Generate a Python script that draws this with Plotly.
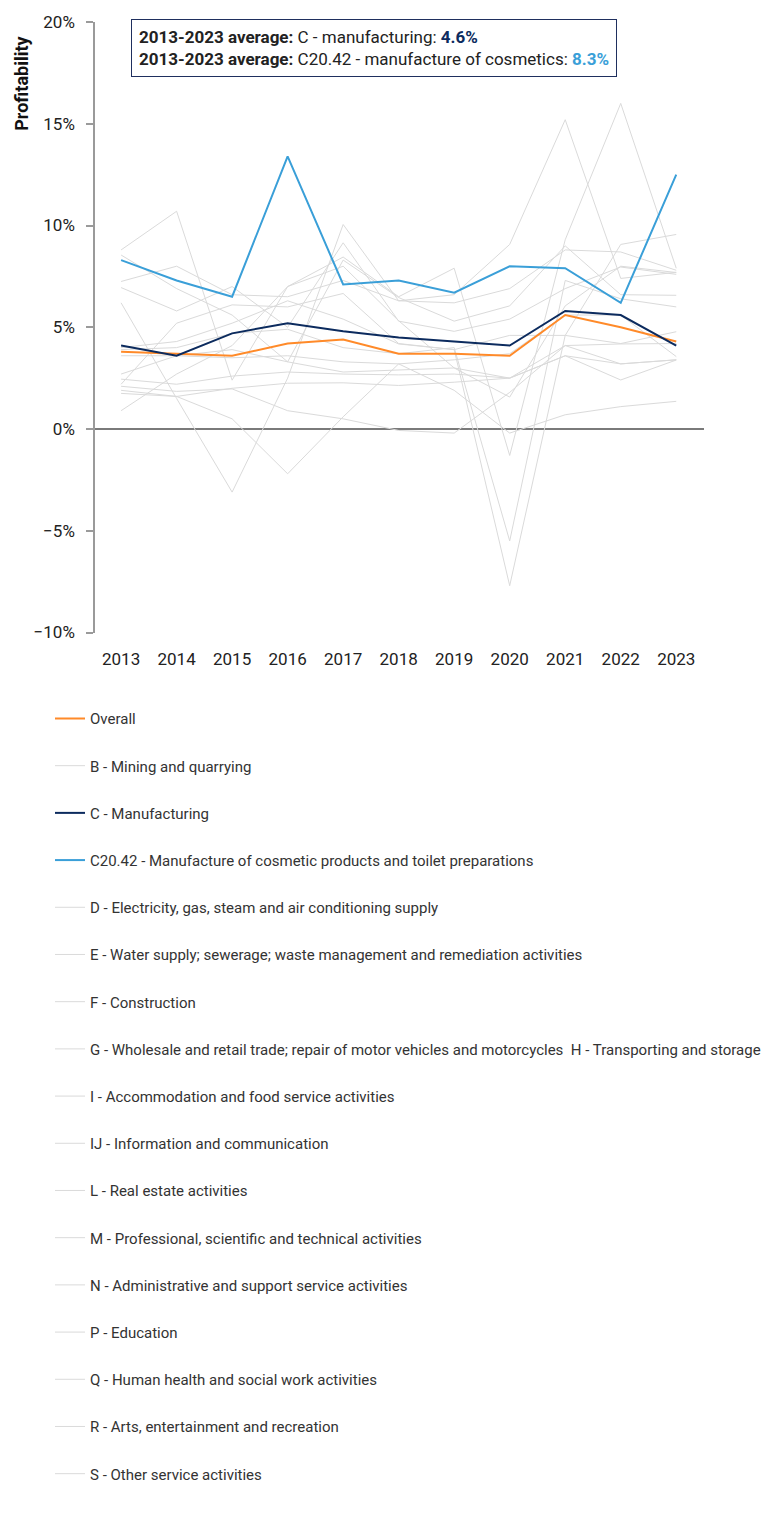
import plotly.graph_objects as go

years = list(range(2013, 2024))

overall = [3.8, 3.7, 3.6, 4.2, 4.4, 3.7, 3.7, 3.6, 5.6, 5.0, 4.3]
manufacturing = [4.1, 3.6, 4.7, 5.2, 4.8, 4.5, 4.3, 4.1, 5.8, 5.6, 4.1]
cosmetics = [8.3, 7.3, 6.5, 13.4, 7.1, 7.3, 6.7, 8.0, 7.9, 6.2, 12.5]

sector_b = [8.8, 10.7, 2.4, 7.0, 8.45, 6.5, 7.9, -1.3, 9.3, 16.0, 7.9]
sector_d = [6.2, 1.5, -3.1, 2.5, 10.05, 6.3, 6.6, 9.07, 15.2, 7.4, 7.7]
sector_e = [7.25, 8.0, 6.6, 6.5, 7.3, 6.3, 6.2, 6.9, 8.8, 8.7, 7.8]
sector_f = [2.7, 3.6, 3.9, 3.3, 2.8, 2.9, 3.0, 2.5, 3.6, 3.2, 3.4]
sector_g = [2.45, 2.2, 2.6, 2.8, 2.7, 2.66, 2.7, 2.5, 4.1, 4.18, 4.2]
sector_h = [3.9, 4.0, 4.7, 4.9, 4.0, 3.7, 4.0, -5.5, 7.3, 6.4, 6.0]
sector_i = [2.2, 5.2, 6.1, 6.0, 6.66, 4.2, 3.9, -7.7, 4.6, 9.07, 9.56]
sector_j = [6.95, 5.8, 7.0, 5.0, 9.15, 5.3, 4.8, 5.4, 6.9, 7.96, 7.6]
sector_l = [8.55, 6.9, 5.6, 3.3, 8.3, 6.46, 5.3, 6.05, 9.0, 6.6, 6.57]
sector_m = [4.0, 4.3, 5.2, 6.3, 5.4, 4.18, 3.9, 4.6, 4.6, 4.2, 4.78]
sector_n = [3.6, 3.6, 3.5, 3.6, 3.3, 3.2, 3.4, 3.7, 5.6, 5.6, 3.56]
sector_p = [0.9, 2.7, 4.1, 7.0, 8.0, 5.32, 3.0, 1.57, 6.05, 8.0, 7.69]
sector_q = [1.75, 1.6, 2.0, 2.25, 2.27, 2.14, 2.3, 2.5, 3.6, 2.41, 3.39]
sector_r = [1.9, 1.6, 0.5, -2.2, 0.6, 3.2, 1.9, -0.2, 0.7, 1.1, 1.36]
sector_s = [2.1, 1.85, 1.97, 0.9, 0.5, -0.07, -0.2, 1.8, 4.1, 3.2, 3.4]

# (legend label, values, legend position, show in legend)
grey_sectors = [
    ("B - Mining and quarrying", sector_b, 2, True),
    ("D - Electricity, gas, steam and air conditioning supply", sector_d, 5, True),
    ("E - Water supply; sewerage; waste management and remediation activities", sector_e, 6, True),
    ("F - Construction", sector_f, 7, True),
    ("G - Wholesale and retail trade; repair of motor vehicles and motorcycles  H - Transporting and storage", sector_g, 8, True),
    ("H - Transporting and storage", sector_h, 8, False),
    ("I - Accommodation and food service activities", sector_i, 9, True),
    ("IJ - Information and communication", sector_j, 10, True),
    ("L - Real estate activities", sector_l, 11, True),
    ("M - Professional, scientific and technical activities", sector_m, 12, True),
    ("N - Administrative and support service activities", sector_n, 13, True),
    ("P - Education", sector_p, 14, True),
    ("Q - Human health and social work activities", sector_q, 15, True),
    ("R - Arts, entertainment and recreation", sector_r, 16, True),
    ("S - Other service activities", sector_s, 17, True),
]

ORANGE = "#ff8a29"
NAVY = "#0c2b5e"
BLUE = "#3a9fd8"
GREY = "#dadada"

fig = go.Figure()

for name, vals, rank, show in grey_sectors:
    fig.add_trace(go.Scatter(
        x=years, y=vals, name=name, mode="lines",
        line=dict(color=GREY, width=1),
        legendrank=rank, legendgroup="g%d" % rank, showlegend=show,
    ))

fig.add_trace(go.Scatter(x=years, y=overall, name="Overall", mode="lines",
                         line=dict(color=ORANGE, width=2), legendrank=1, legendgroup="g1"))
fig.add_trace(go.Scatter(x=years, y=manufacturing, name="C - Manufacturing", mode="lines",
                         line=dict(color=NAVY, width=2), legendrank=3, legendgroup="g3"))
fig.add_trace(go.Scatter(x=years, y=cosmetics,
                         name="C20.42 - Manufacture of cosmetic products and toilet preparations",
                         mode="lines", line=dict(color=BLUE, width=2), legendrank=4, legendgroup="g4"))

avg_c = sum(manufacturing) / len(manufacturing)
avg_cos = sum(cosmetics) / len(cosmetics)

box_text = (
    "<b>2013-2023 average:</b> C - manufacturing: "
    "<b><span style='color:%s'>%.1f%%</span></b><br>"
    "<b>2013-2023 average:</b> C20.42 - manufacture of cosmetics: "
    "<b><span style='color:%s'>%.1f%%</span></b>"
) % (NAVY, avg_c, BLUE, avg_cos)

# page geometry: plot area spans x 95..704 px and y 18..631 px
FIG_H = 1518
TOP, BOTTOM_MARGIN = 18, 20
PLOT_BOTTOM = 631
paper_h = FIG_H - TOP - BOTTOM_MARGIN
y_dom_low = (FIG_H - BOTTOM_MARGIN - PLOT_BOTTOM) / paper_h


def paper_y(px):
    return (FIG_H - BOTTOM_MARGIN - px) / paper_h


fig.add_annotation(
    text=box_text, xref="x domain", yref="y domain",
    x=(131 - 95) / 609, y=(631 - 15) / 613, xanchor="left", yanchor="top",
    showarrow=False, align="left",
    font=dict(family="Roboto", size=17, color="#222222"),
    bordercolor="#1f2f5e", borderwidth=1, borderpad=7,
    bgcolor="white",
)

fig.add_annotation(
    text="<b>Profitability</b>", xref="x domain", yref="y domain",
    x=(22 - 95) / 609, y=(631 - 80) / 613, xanchor="center", yanchor="middle",
    textangle=-90, showarrow=False,
    font=dict(family="Roboto", size=18, color="#111111"),
)

fig.update_xaxes(
    range=[2012.53, 2023.5], tickmode="array", tickvals=years,
    ticktext=[str(y) for y in years],
    showgrid=False, showline=False, zeroline=False, ticks="",
    tickfont=dict(family="Roboto", size=17, color="#222222"),
    ticklabelstandoff=14,
)
fig.update_yaxes(
    domain=[y_dom_low, 1],
    range=[-10, 20], dtick=5, ticksuffix="%",
    showgrid=False, showline=True, linecolor="#9a9a9a", linewidth=1.5,
    ticks="outside", ticklen=7, tickcolor="#9a9a9a", tickwidth=1.5,
    zeroline=True, zerolinecolor="#7a7a7a", zerolinewidth=1.5,
    tickfont=dict(family="Roboto", size=17, color="#222222"),
    ticklabelstandoff=8,
)

fig.update_layout(
    width=766, height=FIG_H, autosize=False,
    margin=dict(l=95, r=62, t=TOP, b=BOTTOM_MARGIN),
    plot_bgcolor="white", paper_bgcolor="white",
    showlegend=True,
    legend=dict(
        orientation="v", x=(50 - 95) / 609, xanchor="left",
        y=paper_y(701), yanchor="top",
        traceorder="grouped", tracegroupgap=24.7,
        font=dict(family="Roboto", size=15, color="#333333"),
        bgcolor="rgba(0,0,0,0)",
    ),
)

fig.write_html("out.html")
